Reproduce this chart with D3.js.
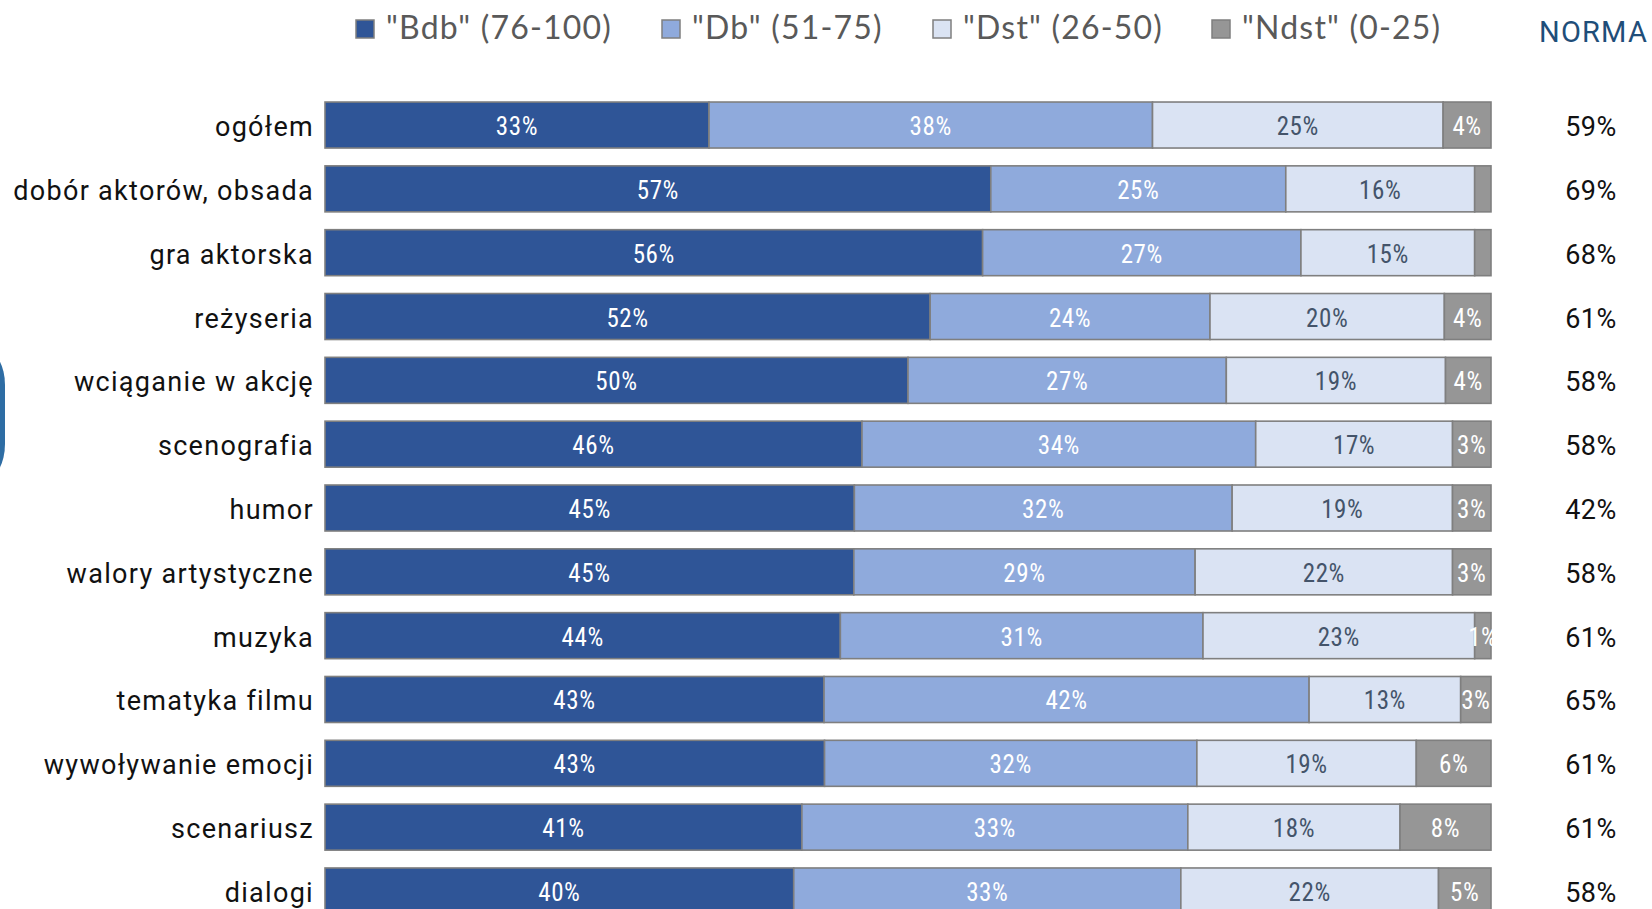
<!DOCTYPE html>
<html>
<head>
<meta charset="utf-8">
<script src="https://cdn.jsdelivr.net/npm/d3@7"></script>
<style>
  html, body { margin: 0; padding: 0; background: #ffffff; }
  svg { display: block; }
</style>
</head>
<body>
<svg id="chart" width="1652" height="909"></svg>
<script>
// ---- data ----
const categories = [
  "ogółem", "dobór aktorów, obsada", "gra aktorska", "reżyseria",
  "wciąganie w akcję", "scenografia", "humor", "walory artystyczne",
  "muzyka", "tematyka filmu", "wywoływanie emocji", "scenariusz", "dialogi"
];
const seriesNames = ["\"Bdb\" (76-100)", "\"Db\" (51-75)", "\"Dst\" (26-50)", "\"Ndst\" (0-25)"];
const bdb  = [32.9, 57.1, 56.4, 51.9, 50.0, 46.1, 45.4, 45.4, 44.2, 42.8, 42.8, 40.9, 40.2];
const db   = [38.0, 25.3, 27.3, 24.0, 27.3, 33.8, 32.4, 29.3, 31.1, 41.6, 31.9, 33.1, 33.2];
const dst  = [24.9, 16.2, 14.9, 20.1, 18.8, 16.9, 18.9, 22.1, 23.3, 13.0, 18.8, 18.2, 22.1];
const ndst = [ 4.1,  1.4,  1.4,  4.0,  3.9,  3.3,  3.3,  3.3,  1.4,  2.6,  6.4,  7.8,  4.5];
const norma = ["59%", "69%", "68%", "61%", "58%", "58%", "42%", "58%", "61%", "65%", "61%", "61%", "58%"];
const normaTitle = "NORMA";
// Ndst data labels that are not shown in the original
const hiddenNdstLabels = ["dobór aktorów, obsada", "gra aktorska"];

// ---- styling ----
const colors = ["#2F5597", "#8FAADC", "#DAE3F3", "#969696"];
const labelColors = ["#ffffff", "#ffffff", "#44546A", "#ffffff"];
const keys = ["bdb", "db", "dst", "ndst"];

const table = categories.map((c, i) => ({cat: c, bdb: bdb[i], db: db[i], dst: dst[i], ndst: ndst[i]}));
const stacked = d3.stack().keys(keys).offset(d3.stackOffsetExpand)(table);

const svg = d3.select("#chart");

const x = d3.scaleLinear().domain([0, 1]).range([325, 1491]);
const y = d3.scaleBand().domain(categories).range([84.2, 931.8]).padding(0.2793);

// decorative edge shape at the left
svg.append("rect").attr("x", -200).attr("y", 350).attr("width", 205).attr("height", 129)
  .attr("rx", 20).attr("ry", 35)
  .attr("fill", "#2E6DA4");

// clip for plot area
svg.append("defs").append("clipPath").attr("id", "plotClip")
  .append("rect").attr("x", x(0) - 2).attr("y", 0).attr("width", x(1) - x(0) + 3).attr("height", 909);

const plot = svg.append("g").attr("clip-path", "url(#plotClip)");

const groups = plot.selectAll("g.series").data(stacked).join("g")
  .attr("class", "series");

groups.selectAll("rect").data((s, si) => s.map(d => ({d, si}))).join("rect")
  .attr("x", o => x(o.d[0]))
  .attr("y", o => y(o.d.data.cat))
  .attr("width", o => x(o.d[1]) - x(o.d[0]))
  .attr("height", y.bandwidth())
  .attr("fill", o => colors[o.si])
  .attr("stroke", "#7F7F7F")
  .attr("stroke-width", 1.6);

const fmt = v => Math.round(v) + "%";

groups.selectAll("text").data((s, si) => s.map(d => ({d, si, key: s.key})))
  .join("text")
  .filter(o => !(o.key === "ndst" && hiddenNdstLabels.includes(o.d.data.cat)))
  .attr("x", o => (x(o.d[0]) + x(o.d[1])) / 2)
  .attr("y", o => y(o.d.data.cat) + y.bandwidth() / 2 + 10)
  .attr("text-anchor", "middle")
  .attr("font-family", "'Liberation Sans Narrow', 'Roboto Condensed', Roboto, sans-serif")
  .attr("font-size", 25)
  .attr("letter-spacing", 0.6)
  .attr("fill", o => labelColors[o.si])
  .text(o => fmt(o.d.data[o.key]));

// category labels
svg.append("g").selectAll("text").data(categories).join("text")
  .attr("x", 314)
  .attr("y", c => y(c) + y.bandwidth() / 2 + 11)
  .attr("text-anchor", "end")
  .attr("font-family", "Roboto, 'Noto Sans', sans-serif")
  .attr("font-size", 27)
  .attr("letter-spacing", 1.3)
  .attr("fill", "#111111")
  .text(c => c);

// norma column
svg.append("g").selectAll("text").data(categories).join("text")
  .attr("x", 1591)
  .attr("y", (c) => y(c) + y.bandwidth() / 2 + 11)
  .attr("text-anchor", "middle")
  .attr("font-family", "Roboto, sans-serif")
  .attr("font-weight", 400)
  .attr("font-size", 27)
  .attr("letter-spacing", 0.5)
  .attr("fill", "#111111")
  .text((c, i) => norma[i]);

svg.append("text")
  .attr("x", 1539).attr("y", 42)
  .attr("font-family", "Roboto, sans-serif")
  .attr("font-weight", 400)
  .attr("font-size", 29)
  .attr("letter-spacing", 1.2)
  .attr("fill", "#1F4E79")
  .text(normaTitle);

// legend
const legendX = [356, 662, 933, 1212];
const legend = svg.append("g").selectAll("g").data(seriesNames).join("g")
  .attr("transform", (d, i) => `translate(${legendX[i]},0)`);
legend.append("rect")
  .attr("x", 0).attr("y", 20).attr("width", 18).attr("height", 18)
  .attr("fill", (d, i) => colors[i])
  .attr("stroke", "#7F7F7F").attr("stroke-width", 1.5);
legend.append("text")
  .attr("x", 30).attr("y", 39)
  .attr("font-family", "Lato, 'Liberation Sans', sans-serif")
  .attr("font-size", 32)
  .attr("letter-spacing", 1.2)
  .attr("fill", "#595959")
  .text(d => d);
</script>
</body>
</html>
